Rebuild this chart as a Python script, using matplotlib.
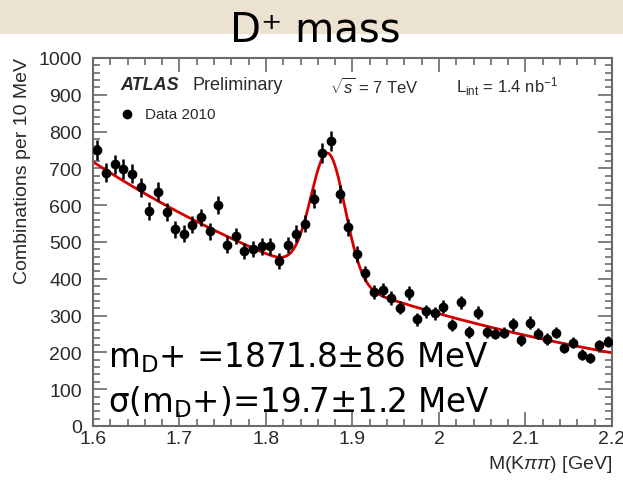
import numpy as np
import matplotlib
matplotlib.use("Agg")
import matplotlib.pyplot as plt
from matplotlib.ticker import MultipleLocator
from matplotlib.patches import Rectangle

plt.rcParams["font.family"] = ["Liberation Sans", "DejaVu Sans"]
plt.rcParams["mathtext.fontset"] = "custom"
plt.rcParams["mathtext.rm"] = "Liberation Sans"
plt.rcParams["mathtext.it"] = "Liberation Sans:italic"

# K pi pi invariant mass, 10 MeV bins from 1.6 to 2.2 GeV
bin_centers = np.arange(60) * 0.01 + 1.605
counts = [750, 688, 711, 698, 686, 649, 584, 637, 582, 535,
          522, 547, 567, 529, 600, 493, 516, 475, 481, 488,
          488, 449, 491, 522, 550, 618, 743, 775, 631, 540,
          468, 415, 365, 370, 347, 322, 361, 290, 312, 306,
          324, 274, 336, 256, 308, 256, 251, 254, 276, 233,
          281, 251, 236, 254, 212, 226, 194, 185, 219, 229]

# fit: exponential background + gaussian signal
d_mass = 1.8718      # GeV
d_sigma = 0.0197     # GeV
sig_amp = 340.0
bkg_norm = 718.0
bkg_slope = -2.14

counts = np.array(counts, dtype=float)
errors = np.sqrt(counts)

fig = plt.figure(figsize=(6.23, 4.81), dpi=100)
fig.patch.set_facecolor("white")

# beige header band
fig.patches.append(Rectangle((0, 1 - 35 / 481), 1, 35 / 481, transform=fig.transFigure,
                             facecolor="#ebe2d2", edgecolor="none", zorder=0))

ax = fig.add_axes([93 / 623, 1 - 427 / 481, 519 / 623, 368 / 481])

grey = "#6a6a6a"
txt = "#2a2a2a"

ax.errorbar(bin_centers, counts, yerr=errors, fmt="o", color="black",
            markersize=6, elinewidth=1.8, capsize=0, zorder=3)

m = np.linspace(1.6, 2.2, 600)
fit = bkg_norm * np.exp(bkg_slope * (m - 1.6)) + sig_amp * np.exp(-0.5 * ((m - d_mass) / d_sigma) ** 2)
ax.plot(m, fit, color="#d40000", lw=2.0, zorder=2)

ax.set_xlim(1.6, 2.2)
ax.set_ylim(0, 1000)
ax.xaxis.set_major_locator(MultipleLocator(0.1))
ax.xaxis.set_minor_locator(MultipleLocator(0.02))
ax.yaxis.set_major_locator(MultipleLocator(100))
ax.yaxis.set_minor_locator(MultipleLocator(20))
ax.set_xticks([1.6, 1.7, 1.8, 1.9, 2.0, 2.1, 2.2])
ax.set_xticklabels(["1.6", "1.7", "1.8", "1.9", "2", "2.1", "2.2"])
ax.tick_params(which="both", direction="in", top=True, right=True, color=grey,
               labelcolor=txt, labelsize=14, width=1.2)
ax.tick_params(which="major", length=10)
ax.tick_params(axis="x", which="major", pad=3)
ax.tick_params(axis="y", which="major", pad=8)
ax.tick_params(which="minor", length=5)
for s in ax.spines.values():
    s.set_color(grey)
    s.set_linewidth(1.5)

fig.text(612 / 623, 1 - 465 / 481, "M(K$\\pi\\pi$) [GeV]", ha="right", va="center",
         fontsize=14, color=txt)
fig.text(23 / 623, 1 - 58 / 481, "Combinations per 10 MeV", rotation=90,
         ha="center", va="top", fontsize=14, color=txt)

# ATLAS labels
fig.text(120 / 623, 1 - 86 / 481, "ATLAS", fontsize=13, fontweight="bold",
         fontstyle="italic", color=txt, va="center")
fig.text(192 / 623, 1 - 86 / 481, "Preliminary", fontsize=13, color=txt, va="center")
fig.text(330 / 623, 1 - 87 / 481, "$\\sqrt{s}$ = 7 TeV", fontsize=12, color=txt, va="center")
fig.text(456 / 623, 1 - 87 / 481, "L$_{\\mathregular{int}}$ = 1.4 nb$^{\\mathregular{-1}}$",
         fontsize=12, color=txt, va="center")
ax.plot([(126.7 - 93) / 519], [(427 - 115) / 368], "o", color="black",
        markersize=6, transform=ax.transAxes)
fig.text(145 / 623, 1 - 115 / 481, "Data 2010", fontsize=11, color=txt, va="center")

fig.text(315 / 623, 1 - 30 / 481, "D\u207a mass", ha="center", va="center",
         fontsize=29, color="black", family="DejaVu Sans")

big = dict(fontsize=23.5, color="black", va="baseline", family="DejaVu Sans")
fig.text(108 / 623, 1 - 368 / 481, "m$_{\\mathregular{D}}$+ =1871.8\u00b186 MeV", **big)
fig.text(108 / 623, 1 - 413 / 481, "\u03c3(m$_{\\mathregular{D}}$+)=19.7\u00b11.2 MeV", **big)

fig.savefig("out.png", dpi=100)
